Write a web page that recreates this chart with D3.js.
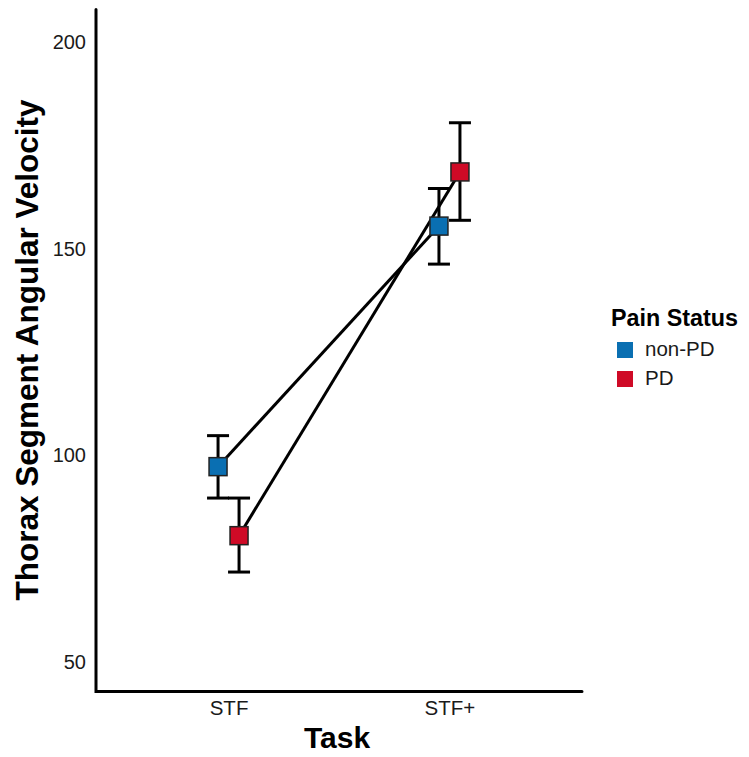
<!DOCTYPE html>
<html>
<head>
<meta charset="utf-8">
<script src="https://cdn.jsdelivr.net/npm/d3@7"></script>
<style>
  html, body { margin: 0; padding: 0; background: #fff; }
  svg { display: block; font-family: "Liberation Sans", Arial, sans-serif; }
</style>
</head>
<body>
<svg id="chart" width="749" height="757"></svg>
<script>
// Mean thorax segment angular velocity by task and pain status, with error bars
const tasks = ["STF", "STF+"];
const groups = ["non-PD", "PD"];
const groupColors = ["#0A6FB2", "#CF0A26"];
const meanNonPD = [96.9, 155.1];
const lowerNonPD = [89.3, 145.9];
const upperNonPD = [104.4, 164.2];
const meanPD = [80.2, 168.2];
const lowerPD = [71.4, 156.5];
const upperPD = [89.3, 180.1];
const yTicks = [50, 100, 150, 200];

const series = [
  { group: groups[0], color: groupColors[0], mean: meanNonPD, lo: lowerNonPD, hi: upperNonPD },
  { group: groups[1], color: groupColors[1], mean: meanPD, lo: lowerPD, hi: upperPD }
];

const svg = d3.select("#chart");
const plotLeft = 96, plotRight = 582, plotTop = 9.5, plotBottom = 691.5;

// y: limits 50–200 with 5% padding on both ends
const yScale = d3.scaleLinear().domain([42.5, 207.5]).range([plotBottom, plotTop]);
// x: discrete tasks with 0.6-unit padding on each side
const xScale = d3.scalePoint().domain(tasks).range([plotLeft, plotRight]).padding(0.6);
const dodge = d3.scalePoint().domain(groups).range([-10.5, 10.5]);

// Axes without tick marks
const yAxis = d3.axisLeft(yScale).tickValues(yTicks).tickSize(0).tickPadding(10);
const gy = svg.append("g").attr("transform", `translate(${plotLeft},1.5)`).call(yAxis);
gy.select(".domain").remove();
gy.selectAll("text").attr("font-size", 20).attr("fill", "#1a1a1a")
  .attr("font-family", "Liberation Sans, Arial, sans-serif");

const xAxis = d3.axisBottom(xScale).tickSize(0).tickPadding(9);
const gx = svg.append("g").attr("transform", `translate(0,${plotBottom})`).call(xAxis);
gx.select(".domain").remove();
gx.selectAll("text").attr("font-size", 20.5).attr("fill", "#1a1a1a")
  .attr("font-family", "Liberation Sans, Arial, sans-serif");

// Axis lines
svg.append("path")
  .attr("d", `M${plotLeft},${plotTop}V${plotBottom}H${plotRight}`)
  .attr("fill", "none").attr("stroke", "#000").attr("stroke-width", 3)
  .attr("stroke-linecap", "round").attr("stroke-linejoin", "miter");

// Axis titles
svg.append("text")
  .attr("x", (plotLeft + plotRight) / 2 - 2).attr("y", 748)
  .attr("text-anchor", "middle").attr("font-size", 30).attr("font-weight", "bold")
  .text("Task");
svg.append("text")
  .attr("transform", `translate(38,350) rotate(-90)`)
  .attr("text-anchor", "middle").attr("font-size", 31.5).attr("font-weight", "bold")
  .text("Thorax Segment Angular Velocity");

const px = (s, i) => xScale(tasks[i]) + dodge(s.group);

// Connecting lines
const line = d3.line().x(d => d[0]).y(d => d[1]);
series.forEach(s => {
  svg.append("path")
    .attr("d", line(tasks.map((t, i) => [px(s, i), yScale(s.mean[i])])))
    .attr("fill", "none").attr("stroke", "#000").attr("stroke-width", 3);
});

// Error bars
const capHalf = 11;
series.forEach(s => {
  tasks.forEach((t, i) => {
    const x = px(s, i);
    const g = svg.append("g").attr("stroke", "#000").attr("stroke-width", 3);
    g.append("line").attr("x1", x).attr("x2", x)
      .attr("y1", yScale(s.lo[i])).attr("y2", yScale(s.hi[i]));
    g.append("line").attr("x1", x - capHalf).attr("x2", x + capHalf)
      .attr("y1", yScale(s.hi[i])).attr("y2", yScale(s.hi[i]));
    g.append("line").attr("x1", x - capHalf).attr("x2", x + capHalf)
      .attr("y1", yScale(s.lo[i])).attr("y2", yScale(s.lo[i]));
  });
});

// Point markers
const sq = 18;
series.forEach(s => {
  tasks.forEach((t, i) => {
    svg.append("rect")
      .attr("x", px(s, i) - sq / 2).attr("y", yScale(s.mean[i]) - sq / 2)
      .attr("width", sq).attr("height", sq)
      .attr("fill", s.color).attr("stroke", "#222").attr("stroke-width", 1.5);
  });
});

// Legend
const legend = svg.append("g").attr("transform", "translate(611,0)");
legend.append("text").attr("x", 0).attr("y", 326)
  .attr("font-size", 23.3).attr("font-weight", "bold").text("Pain Status");
series.forEach((s, k) => {
  const y0 = 342 + k * 29;
  legend.append("rect").attr("x", 6).attr("y", y0).attr("width", 16).attr("height", 16)
    .attr("fill", s.color);
  legend.append("text").attr("x", 34).attr("y", y0 + 14)
    .attr("font-size", 20.5).attr("fill", "#1a1a1a").text(s.group);
});
</script>
</body>
</html>
